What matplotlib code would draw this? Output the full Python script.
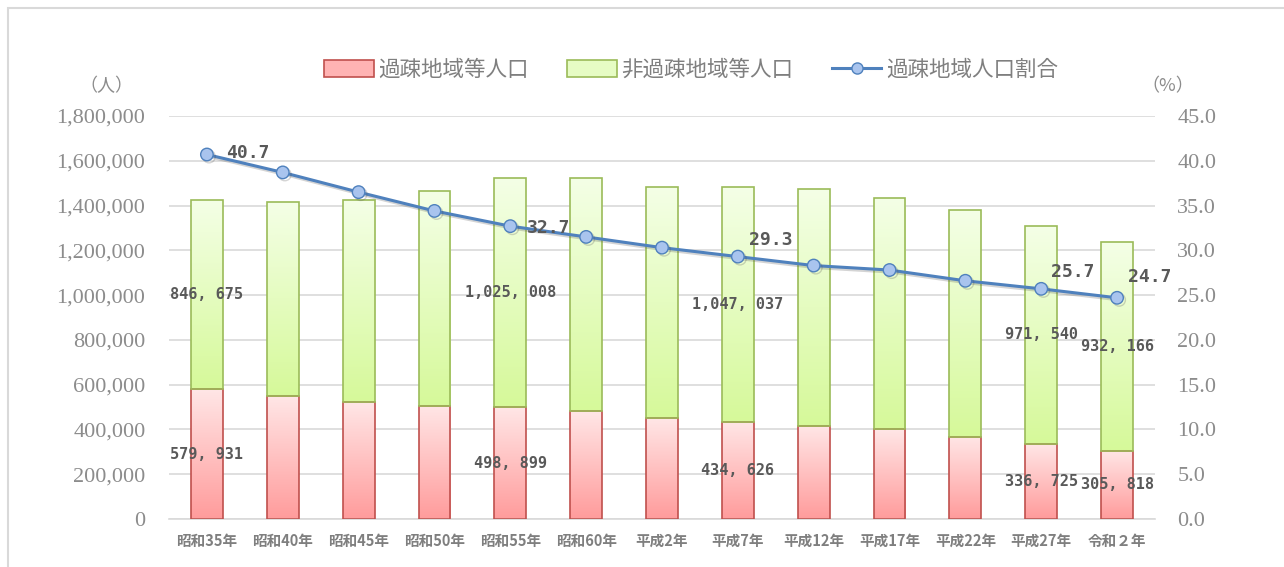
import matplotlib
matplotlib.use("Agg")
import matplotlib.pyplot as plt
import numpy as np
from matplotlib.patches import Rectangle
from matplotlib.lines import Line2D
import matplotlib.patheffects as pe

plt.rcParams['font.family'] = ['Noto Sans CJK JP', 'DejaVu Sans']

categories = ['昭和35年', '昭和40年', '昭和45年', '昭和50年', '昭和55年', '昭和60年',
              '平成2年', '平成7年', '平成12年', '平成17年', '平成22年', '平成27年', '令和２年']
kaso_pop = [579931, 548000, 521000, 505000, 498899, 481000, 449000, 434626,
            416000, 400000, 367000, 336725, 305818]
hikaso_pop = [846675, 868000, 904000, 961000, 1025008, 1042000, 1035000, 1047037,
              1059000, 1035000, 1011000, 971540, 932166]
kaso_ratio = [40.7, 38.7, 36.5, 34.4, 32.7, 31.5, 30.3, 29.3, 28.3, 27.8, 26.6, 25.7, 24.7]

# labels shown only for some bars
label_idx = [0, 4, 7, 11, 12]
kaso_labels = {0: '579, 931', 4: '498, 899', 7: '434, 626', 11: '336, 725', 12: '305, 818'}
hikaso_labels = {0: '846, 675', 4: '1,025, 008', 7: '1,047, 037', 11: '971, 540', 12: '932, 166'}
ratio_labels = {0: '40.7', 4: '32.7', 7: '29.3', 11: '25.7', 12: '24.7'}
ratio_offsets = {0: (14, 1), 4: (12, -1), 7: (8, 12), 11: (7, 12), 12: (8, 15)}

left_ticks = np.arange(0, 1800001, 200000)
right_ticks = np.arange(0, 45.1, 5)

fig = plt.figure(figsize=(12.84, 5.67), dpi=100)
# outer border
fig.patches.append(Rectangle((8/1284, -0.01), 1.1, 1 - 8/567 + 0.01, transform=fig.transFigure,
                             fill=False, edgecolor='#d9d9d9', linewidth=1.5))

ax = fig.add_axes([169/1284, 1 - 519/567, (1155 - 169)/1284, (519 - 116)/567])
ax2 = ax.twinx()

x = np.arange(len(categories))
w = 0.42
tick_color = '#8c8c8c'
lab_color = '#595959'

def grad_img(c_top, c_bot, n=64):
    t = np.linspace(0, 1, n)[:, None]
    ct = np.array(matplotlib.colors.to_rgb(c_top))
    cb = np.array(matplotlib.colors.to_rgb(c_bot))
    return (ct * (1 - t) + cb * t)[:, None, :].repeat(2, axis=1)

red_img = grad_img('#ffe6e6', '#ff9c9c')
green_img = grad_img('#f4ffe6', '#d6f99a')

bars_r = ax.bar(x, kaso_pop, w, color='none', edgecolor='#c0504d', linewidth=1.2, zorder=3)
bars_g = ax.bar(x, hikaso_pop, w, bottom=kaso_pop, color='none', edgecolor='#9bbb59',
                linewidth=1.2, zorder=3)
for bars, img in ((bars_r, red_img), (bars_g, green_img)):
    for b in bars:
        x0, y0 = b.get_x(), b.get_y()
        im = ax.imshow(img, extent=(x0, x0 + b.get_width(), y0, y0 + b.get_height()),
                       aspect='auto', origin='upper', zorder=2, interpolation='bilinear')
        im.set_clip_path(b)
ax.set_xlim(-0.5, len(categories) - 0.5)
ax.set_ylim(0, 1800000)
ax2.set_ylim(0, 45)

ax.set_yticks(left_ticks)
ax.set_yticklabels([f'{v:,}' for v in left_ticks], family='Liberation Serif', fontsize=16,
                   color=tick_color)
ax.yaxis.grid(True, color='#d9d9d9', linewidth=1.2, zorder=0)
ax.set_axisbelow(True)
ax.set_xticks(x)
ax.set_xticklabels(categories, fontsize=10.5, fontweight='bold', color='#7f7f7f')
ax.tick_params(axis='both', length=0)
ax.tick_params(axis='x', pad=10)
ax.tick_params(axis='y', pad=17)
for s in ['top', 'right', 'left']:
    ax.spines[s].set_visible(False)
ax.spines['bottom'].set_color('#d9d9d9')
ax.spines['bottom'].set_linewidth(1.2)

ax2.set_yticks(right_ticks)
ax2.set_yticklabels([f'{v:.1f}' for v in right_ticks], family='Liberation Serif', fontsize=16,
                    color=tick_color)
ax2.yaxis.set_tick_params(which='both', length=0, pad=16)
for s in ax2.spines.values():
    s.set_visible(False)

shadow = [pe.SimpleLineShadow(offset=(1.5, -1.5), alpha=0.25, shadow_color='#555555'), pe.Normal()]
ax2.plot(x, kaso_ratio, color='#4f81bd', linewidth=2.2, marker='o', markersize=9,
         markerfacecolor='#a9c4ee', markeredgecolor='#4f81bd', markeredgewidth=1.0,
         zorder=5, path_effects=shadow)

for i in label_idx:
    ax.text(x[i], kaso_pop[i] / 2, kaso_labels[i], ha='center', va='center', fontsize=11,
            fontweight='bold', color=lab_color, family='DejaVu Sans Mono', zorder=6)
    ax.text(x[i], kaso_pop[i] + hikaso_pop[i] / 2, hikaso_labels[i], ha='center', va='center',
            fontsize=11, fontweight='bold', color=lab_color, family='DejaVu Sans Mono', zorder=6)
    dx, dy = ratio_offsets[i]
    ax2.annotate(ratio_labels[i], (x[i], kaso_ratio[i]), xytext=(dx, dy), textcoords='offset points',
                 ha='left', va='center', fontsize=13, fontweight='bold', color=lab_color,
                 family='DejaVu Sans Mono', zorder=6)

fig.text(106/1284, 1 - 86/567, '（人）', ha='center', va='center', fontsize=13, color=tick_color)
fig.text(1168/1284, 1 - 86/567, '（%）', ha='center', va='center', fontsize=13, color=tick_color)

handles = [Rectangle((0, 0), 1, 1, facecolor='#ffb3b3', edgecolor='#c0504d', linewidth=1.2),
           Rectangle((0, 0), 1, 1, facecolor='#e6fcc4', edgecolor='#9bbb59', linewidth=1.2),
           Line2D([0], [0], color='#4f81bd', linewidth=2.2, marker='o', markersize=8,
                  markerfacecolor='#a9c4ee', markeredgecolor='#4f81bd')]
fig.legend(handles, ['過疎地域等人口', '非過疎地域等人口', '過疎地域人口割合'],
           loc='center', bbox_to_anchor=(691/1284, 1 - 70/567), ncol=3, frameon=False,
           fontsize=15.5, labelcolor='#7f7f7f', handlelength=2.3, handleheight=0.8,
           columnspacing=1.8, handletextpad=0.2)

fig.savefig('out.png', dpi=100)
